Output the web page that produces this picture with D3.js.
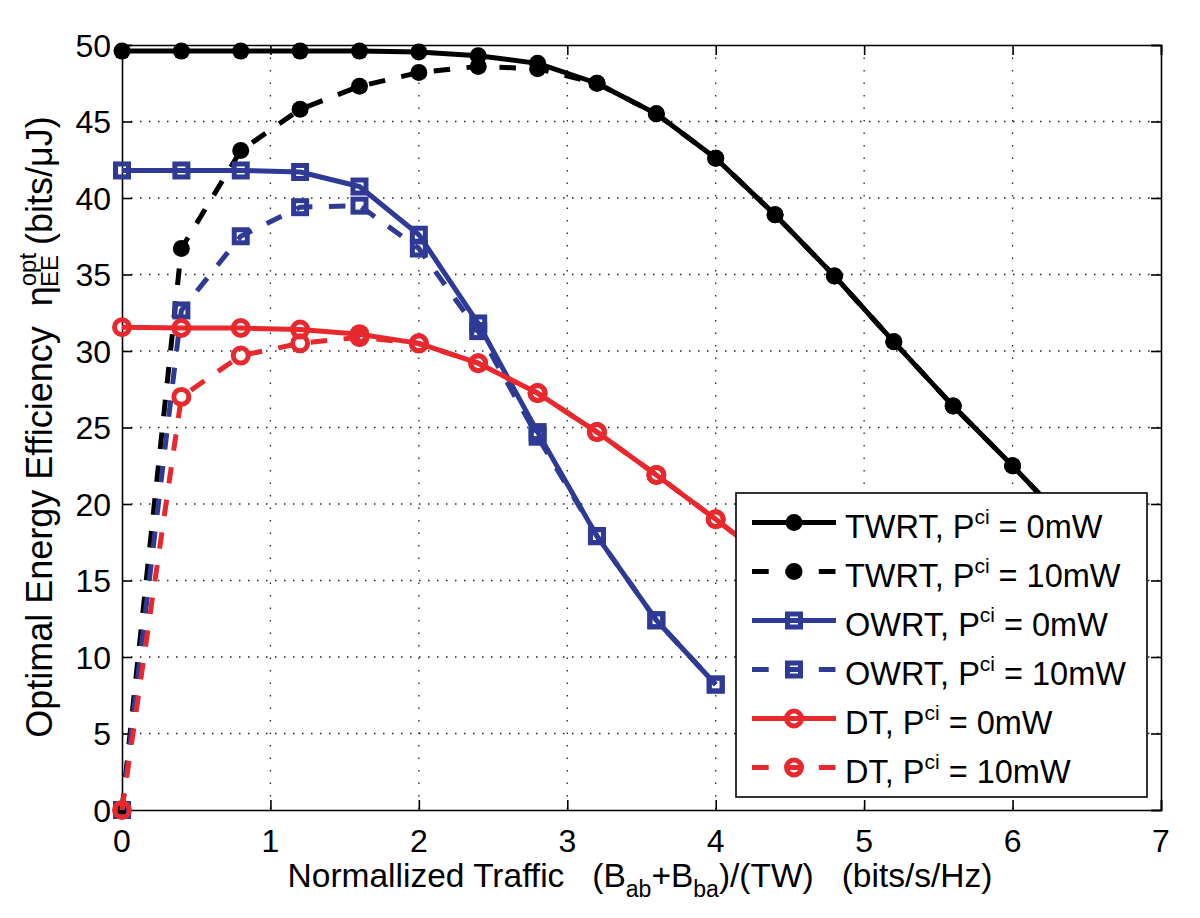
<!DOCTYPE html>
<html>
<head>
<meta charset="utf-8">
<script src="https://cdn.jsdelivr.net/npm/d3@7"></script>
<style>
  html, body { margin: 0; padding: 0; background: #fff; }
  svg { display: block; }
  text { font-family: "Liberation Sans", Arial, Helvetica, sans-serif; fill: #000; }
</style>
</head>
<body>
<svg id="chart" width="1200" height="918"></svg>
<script>
// ---------------- data ----------------
const xTicks = [0, 1, 2, 3, 4, 5, 6, 7];
const yTicks = [0, 5, 10, 15, 20, 25, 30, 35, 40, 45, 50];

const xTWRT = [0, 0.4, 0.8, 1.2, 1.6, 2.0, 2.4, 2.8, 3.2, 3.6, 4.0, 4.4, 4.8, 5.2, 5.6, 6.0, 6.4];
const twrt0  = [49.6, 49.6, 49.6, 49.6, 49.6, 49.55, 49.3, 48.8, 47.5, 45.5, 42.6, 38.9, 34.9, 30.6, 26.4, 22.5, 18.4];
const twrt10 = [0, 36.7, 43.1, 45.8, 47.3, 48.2, 48.6, 48.45, 47.5, 45.5, 42.6, 38.9, 34.9, 30.6, 26.4, 22.5, 18.4];

const xOWRT = [0, 0.4, 0.8, 1.2, 1.6, 2.0, 2.4, 2.8, 3.2, 3.6, 4.0];
const owrt0  = [41.8, 41.8, 41.8, 41.7, 40.75, 37.6, 31.8, 24.7, 17.9, 12.4, 8.2];
const owrt10 = [0, 32.65, 37.5, 39.4, 39.5, 36.7, 31.3, 24.4, 17.9, 12.4, 8.2];

const xDT = [0, 0.4, 0.8, 1.2, 1.6, 2.0, 2.4, 2.8, 3.2, 3.6, 4.0, 4.4];
const dt0  = [31.55, 31.5, 31.5, 31.4, 31.1, 30.5, 29.2, 27.25, 24.7, 21.9, 19.0, 16.0];
const dt10 = [0, 27.0, 29.7, 30.5, 30.9, 30.5, 29.2, 27.25, 24.7, 21.9, 19.0, 16.0];

const seriesNames = ["TWRT", "TWRT", "OWRT", "OWRT", "DT", "DT"];
const seriesPower = ["0mW", "10mW", "0mW", "10mW", "0mW", "10mW"];

// ---------------- styles ----------------
const BLACK = "#000000", BLUE = "#2E3A96", RED = "#E8282D";
const series = [
  { x: xTWRT, y: twrt0,  color: BLACK, dashed: false, marker: "dot" },
  { x: xTWRT, y: twrt10, color: BLACK, dashed: true,  marker: "dot" },
  { x: xOWRT, y: owrt0,  color: BLUE,  dashed: false, marker: "square" },
  { x: xOWRT, y: owrt10, color: BLUE,  dashed: true,  marker: "square" },
  { x: xDT,   y: dt0,    color: RED,   dashed: false, marker: "circle" },
  { x: xDT,   y: dt10,   color: RED,   dashed: true,  marker: "circle" }
];

const L = 122, R = 1161, T = 45, B = 810;
const FS = 32;
const LW = 5;
const DASH = "16.5,16.5";

const svg = d3.select("#chart");
const x = d3.scaleLinear().domain([0, 7]).range([L, R]);
const y = d3.scaleLinear().domain([0, 50]).range([B, T]);

svg.append("rect").attr("x", 0).attr("y", 0).attr("width", 1200).attr("height", 918).attr("fill", "#fff");

// grid
const grid = svg.append("g");
grid.selectAll("line.gx").data(xTicks.filter(d => d > 0 && d < 7)).enter().append("line")
  .attr("x1", d => x(d)).attr("x2", d => x(d)).attr("y1", T).attr("y2", B)
  .attr("stroke", "#222").attr("stroke-width", 1.3).attr("stroke-dasharray", "1.5,11");
grid.selectAll("line.gy").data(yTicks.filter(d => d > 0 && d < 50)).enter().append("line")
  .attr("x1", L).attr("x2", R).attr("y1", d => y(d)).attr("y2", d => y(d))
  .attr("stroke", "#222").attr("stroke-width", 1.3).attr("stroke-dasharray", "1.5,7.5");

// axes (inward ticks, MATLAB style)
const axB = svg.append("g").attr("transform", `translate(0,${B})`)
  .call(d3.axisTop(x).tickValues(xTicks).tickSize(10).tickFormat(""));
const axT = svg.append("g").attr("transform", `translate(0,${T})`)
  .call(d3.axisBottom(x).tickValues(xTicks).tickSize(10).tickFormat(""));
const axLft = svg.append("g").attr("transform", `translate(${L},0)`)
  .call(d3.axisRight(y).tickValues(yTicks).tickSize(10).tickFormat(""));
const axRgt = svg.append("g").attr("transform", `translate(${R},0)`)
  .call(d3.axisLeft(y).tickValues(yTicks).tickSize(10).tickFormat(""));
[axB, axT, axLft, axRgt].forEach(g => {
  g.select(".domain").attr("stroke", "#000").attr("stroke-width", 1.6);
  g.selectAll(".tick line").attr("stroke", "#000").attr("stroke-width", 1.6);
});

// tick labels
svg.append("g").selectAll("text").data(xTicks).enter().append("text")
  .attr("x", d => x(d)).attr("y", 852).attr("text-anchor", "middle")
  .attr("font-size", FS).text(d => d);
svg.append("g").selectAll("text").data(yTicks).enter().append("text")
  .attr("x", 111).attr("y", d => y(d) + 11.5).attr("text-anchor", "end")
  .attr("font-size", FS).text(d => d);

// series
const lineGen = d3.line().x(d => x(d[0])).y(d => y(d[1]));
function drawMarker(g, px, py, type, color) {
  if (type === "dot") {
    g.append("circle").attr("cx", px).attr("cy", py).attr("r", 8.5).attr("fill", color);
  } else if (type === "square") {
    g.append("rect").attr("x", px - 6.5).attr("y", py - 6.5).attr("width", 13).attr("height", 13)
      .attr("fill", "none").attr("stroke", color).attr("stroke-width", 5);
  } else {
    g.append("circle").attr("cx", px).attr("cy", py).attr("r", 7.5)
      .attr("fill", "none").attr("stroke", color).attr("stroke-width", 5);
  }
}
series.forEach(s => {
  const g = svg.append("g");
  const pts = s.x.map((xv, i) => [xv, s.y[i]]);
  g.append("path").datum(pts).attr("d", lineGen)
    .attr("fill", "none").attr("stroke", s.color).attr("stroke-width", LW)
    .attr("stroke-linejoin", "round")
    .attr("stroke-dasharray", s.dashed ? DASH : null);
  pts.forEach(p => drawMarker(g, x(p[0]), y(p[1]), s.marker, s.color));
});

// legend
const lg = svg.append("g");
lg.append("rect").attr("x", 736).attr("y", 493).attr("width", 411).attr("height", 304)
  .attr("fill", "#fff").attr("stroke", "#000").attr("stroke-width", 1.6);
series.forEach((s, i) => {
  const cy = 522.5 + i * 49;
  lg.append("path").attr("d", `M752,${cy}H836`).attr("fill", "none")
    .attr("stroke", s.color).attr("stroke-width", LW)
    .attr("stroke-dasharray", s.dashed ? "16.7,16.7" : null);
  drawMarker(lg, 794, cy, s.marker, s.color);
  const t = lg.append("text").attr("x", 845).attr("y", cy + 15).attr("font-size", 32.5)
    .style("white-space", "pre");
  t.append("tspan").text(seriesNames[i] + ", P");
  t.append("tspan").attr("font-size", 21).attr("dy", -14).text("ci");
  t.append("tspan").attr("dy", 14).text(" = " + seriesPower[i]);
});

// x-axis title
const xt = svg.append("text").attr("x", 640).attr("y", 887).attr("text-anchor", "middle")
  .attr("font-size", 33.5).style("white-space", "pre");
xt.append("tspan").text("Normallized Traffic   (B");
xt.append("tspan").attr("font-size", 23).attr("dy", 10).text("ab");
xt.append("tspan").attr("dy", -10).text("+B");
xt.append("tspan").attr("font-size", 23).attr("dy", 10).text("ba");
xt.append("tspan").attr("dy", -10).text(")/(TW)   (bits/s/Hz)");

// y-axis title
const yt = svg.append("text").attr("transform", "translate(52,427) rotate(-90)")
  .attr("text-anchor", "middle").attr("font-size", 36).style("white-space", "pre");
yt.append("tspan").text("Optimal Energy Efficiency  η");
yt.append("tspan").attr("font-size", 24).attr("dy", -16).text("opt");
yt.append("tspan").attr("font-size", 24).attr("dx", -34).attr("dy", 22).text("EE");
yt.append("tspan").attr("dy", -6).text(" (bits/μJ)");
</script>
</body>
</html>
